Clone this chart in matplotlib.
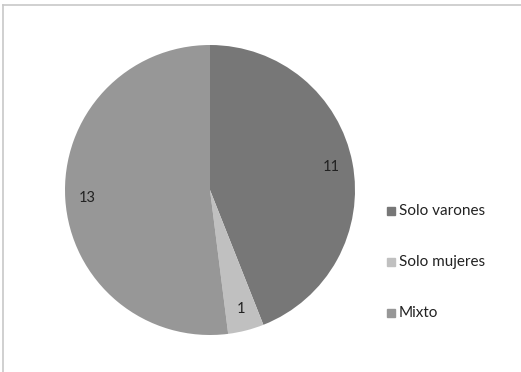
import matplotlib

matplotlib.use("Agg")
import matplotlib.pyplot as plt
from matplotlib.lines import Line2D

categories = ["Solo varones", "Solo mujeres", "Mixto"]
values = [11, 1, 13]
colors = ["#777777", "#c0c0c0", "#979797"]

plt.rcParams["font.family"] = ["Lato", "DejaVu Sans"]

fig = plt.figure(figsize=(5.21, 3.72), dpi=100)
W, H = 521, 372

# marco del grafico (solo se ven los bordes superior e izquierdo)
fig.add_artist(Line2D([3 / W, 3 / W], [0, 1 - 5 / H], color="#c8c8c8", lw=1.2))
fig.add_artist(Line2D([3 / W, 1], [1 - 5 / H, 1 - 5 / H], color="#c8c8c8", lw=1.2))

# pie: centro (210,190), radio 145 px
cx, cy, r = 210, 190, 145
ax = fig.add_axes([(cx - r) / W, 1 - (cy + r) / H, 2 * r / W, 2 * r / H])
wedges, texts = ax.pie(values, colors=colors, startangle=90, counterclock=False,
                       labels=[str(v) for v in values], labeldistance=0.85,
                       textprops={"fontsize": 10.5, "color": "#222222"},
                       wedgeprops={"linewidth": 0})
for t in texts:
    t.set_ha("center")
    t.set_va("center")
ax.set_aspect("equal")
ax.set_xlim(-1, 1)
ax.set_ylim(-1, 1)

# leyenda
ys = [211, 262, 313]
for name, col, y in zip(categories, colors, ys):
    fig.patches.append(plt.Rectangle((387 / W, 1 - (y + 4) / H), 8 / W, 8 / H,
                                     transform=fig.transFigure, color=col, figure=fig))
    fig.text(399 / W, 1 - y / H, name, fontsize=11, va="center", ha="left", color="#222222")

fig.savefig("out.png", dpi=100)
